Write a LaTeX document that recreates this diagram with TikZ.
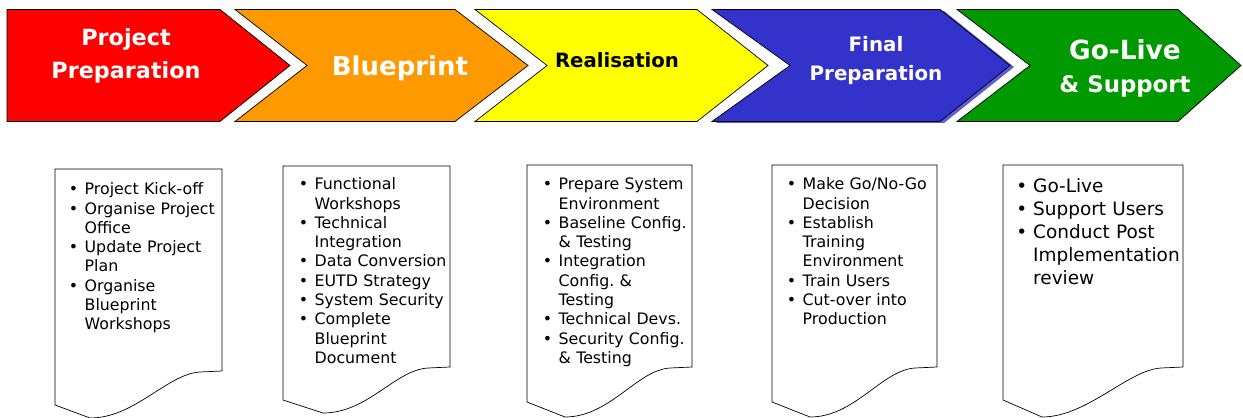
\documentclass[tikz,border=0pt]{standalone}
\usepackage{fontspec}
\setmainfont{DejaVu Sans}
\usetikzlibrary{positioning}
\definecolor{phasered}{RGB}{255,0,0}
\definecolor{phaseorange}{RGB}{255,153,0}
\definecolor{phaseyellow}{RGB}{255,255,0}
\definecolor{phaseblue}{RGB}{51,51,204}
\definecolor{phasegreen}{RGB}{0,153,0}
\frenchspacing
\newlength{\itemhang}
\setlength{\itemhang}{9pt}
\newcommand{\phaseitem}[1]{\par\noindent\hangindent=\itemhang\hangafter=1\makebox[\itemhang][l]{\textbullet}#1\par}

\begin{document}
\begin{tikzpicture}[x=0.02cm, y=-0.02cm,
    chevron/.style={draw=black, thin},
    heading/.style={text=white, align=center, inner sep=0pt},
    paper/.style={draw=black, thin, fill=white},
    tasks/.style={anchor=north west, inner sep=0pt, text width=3.6cm, align=left, font={\fontsize{9}{11}\selectfont}}
]
\useasboundingbox (0,0) rectangle (1243,418);

% Phase chevrons
\draw[chevron, fill=phasered] (7,9.5) -- (220,9.5) -- (290,65.5) -- (220,121.5) -- (7,121.5) -- cycle;
\draw[chevron, fill=phaseorange] (235,9.5) -- (455,9.5) -- (528,65.5) -- (455,121.5) -- (235,121.5) -- (307,65.5) -- cycle;
\draw[chevron, fill=phaseyellow] (475,9.5) -- (697,9.5) -- (768,65.5) -- (697,121.5) -- (475,121.5) -- (547,65.5) -- cycle;
\fill[phaseblue!80, shift={(4,1.5)}] (712,9.5) -- (940,9.5) -- (1010,65.5) -- (940,121.5) -- (712,121.5) -- (790,65.5) -- cycle;
\draw[chevron, fill=phaseblue] (712,9.5) -- (940,9.5) -- (1010,65.5) -- (940,121.5) -- (712,121.5) -- (790,65.5) -- cycle;
\draw[chevron, fill=phasegreen] (957,9.5) -- (1178,9.5) -- (1241,65.5) -- (1178,121.5) -- (957,121.5) -- (1030,65.5) -- cycle;

% Phase titles
\node[heading, font={\bfseries\fontsize{12.7}{18.7}\selectfont}] (phase1) at (126,56) {Project\\Preparation};
\node[heading, font={\bfseries\fontsize{14.8}{18}\selectfont}] (phase2) at (400,68) {Blueprint};
\node[heading, text=black, font={\bfseries\fontsize{11.2}{14}\selectfont}] (phase3) at (617,60) {Realisation};
\node[heading, font={\bfseries\fontsize{11.3}{16.4}\selectfont}] (phase4) at (876,60.5) {Final\\Preparation};
\node[heading, font={\bfseries\fontsize{13}{18.7}\selectfont}] (phase5) at (1125,68.5) {{\fontsize{15}{18.7}\selectfont Go-Live}\\\& Support};

% Task sheets
\draw[paper] (55,169) -- (222,169) -- (222,371) -- (200,372) .. controls (167,374) and (135,418) .. (90,418) -- (55,405) -- cycle;
\draw[paper] (283,166) -- (450,166) -- (450,367) -- (428,368) .. controls (395,370) and (368,413) .. (323,413) -- (283,400) -- cycle;
\draw[paper] (527,165) -- (692,165) -- (692,367) -- (670,368) .. controls (637,370) and (610,417) .. (565,417) -- (527,402) -- cycle;
\draw[paper] (772,165) -- (937,165) -- (937,367) -- (915,368) .. controls (882,370) and (855,417) .. (810,417) -- (772,402) -- cycle;
\draw[paper] (1003,165) -- (1183,165) -- (1183,367) -- (1161,368) .. controls (1128,370) and (1087,417) .. (1042,417) -- (1003,400) -- cycle;

% Task lists
\node[tasks] (list1) at (68.5,175) {
  \phaseitem{Project Kick-off}
  \phaseitem{Organise Project\newline Office}
  \phaseitem{Update Project\newline Plan}
  \phaseitem{Organise\newline Blueprint\newline Workshops}
};
\node[tasks] (list2) at (298.5,170) {
  \phaseitem{Functional\newline Workshops}
  \phaseitem{Technical\newline Integration}
  \phaseitem{Data Conversion}
  \phaseitem{EUTD Strategy}
  \phaseitem{System Security}
  \phaseitem{Complete\newline Blueprint\newline Document}
};
\node[tasks] (list3) at (542.5,170) {
  \phaseitem{Prepare System\newline Environment}
  \phaseitem{Baseline Config.\newline \& Testing}
  \phaseitem{Integration\newline Config. \&\newline Testing}
  \phaseitem{Technical Devs.}
  \phaseitem{Security Config.\newline \& Testing}
};
\node[tasks] (list4) at (786.5,170) {
  \phaseitem{Make Go/No-Go\newline Decision}
  \phaseitem{Establish\newline Training\newline Environment}
  \phaseitem{Train Users}
  \phaseitem{Cut-over into\newline Production}
};
\node[tasks, font={\fontsize{10.5}{13}\selectfont}] (list5) at (1016,169.5) {
  \setlength{\itemhang}{9.6pt}
  \phaseitem{Go-Live}
  \phaseitem{Support Users}
  \phaseitem{Conduct Post\newline Implementation\newline review}
};

\end{tikzpicture}
\end{document}
